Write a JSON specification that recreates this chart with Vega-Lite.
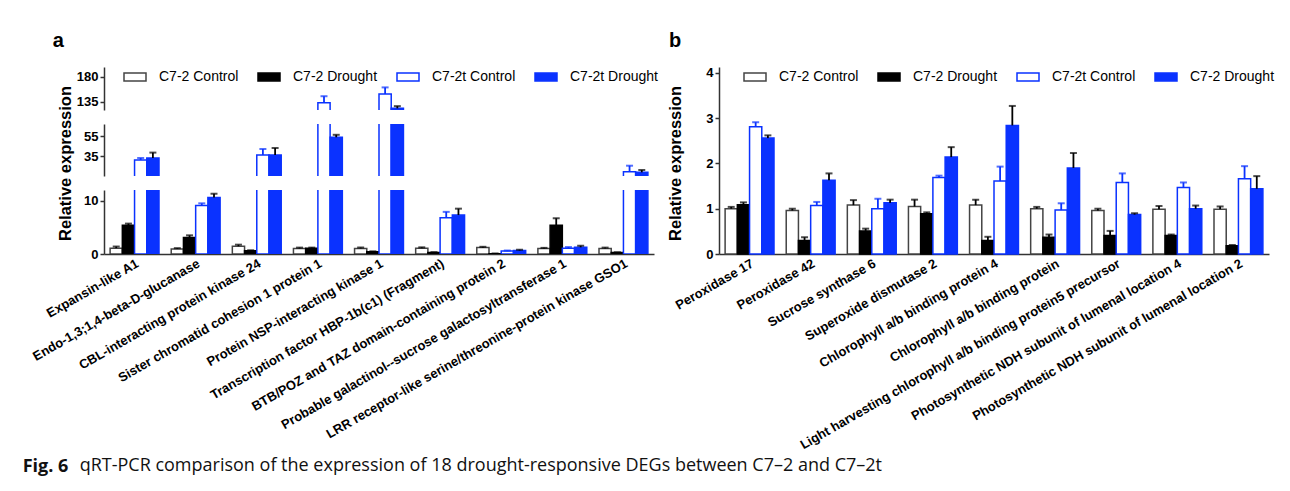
{
  "$schema": "https://vega.github.io/schema/vega-lite/v6.json",
  "background": "white",
  "padding": {"left": 22, "top": 31, "right": 5, "bottom": 5},
  "config": {
    "font": "Liberation Sans",
    "view": {"stroke": null},
    "axis": {"labelFont": "Liberation Sans", "labelFontSize": 13, "labelFontWeight": "bold", "labelColor": "black", "titleFont": "Liberation Sans", "titleFontSize": 16.5, "titleFontWeight": "bold", "titleColor": "black", "domainColor": "#333333", "domainWidth": 1.5, "tickColor": "#333333", "tickWidth": 1.5, "tickSize": 4, "grid": false, "labelPadding": 2},
    "legend": {"symbolType": "M-1,-0.36H1V0.36H-1Z", "symbolSize": 484, "symbolStrokeWidth": 1.5, "labelFont": "Liberation Sans", "labelFontSize": 14, "labelColor": "black", "labelOffset": 12, "columnPadding": 16},
    "title": {"font": "Liberation Sans", "color": "black"}
  },
  "datasets": {
    "a": [
      {"gene": "Expansin-like A1", "g": "C7-2 Control", "v": 1.1, "hi": 1.4},
      {"gene": "Expansin-like A1", "g": "C7-2 Drought", "v": 5.4, "hi": 5.7},
      {"gene": "Expansin-like A1", "g": "C7-2t Control", "v": 31, "hi": 33},
      {"gene": "Expansin-like A1", "g": "C7-2t Drought", "v": 33, "hi": 38.4},
      {"gene": "Endo-1,3;1,4-beta-D-glucanase", "g": "C7-2 Control", "v": 0.95, "hi": 1.1},
      {"gene": "Endo-1,3;1,4-beta-D-glucanase", "g": "C7-2 Drought", "v": 3.1, "hi": 3.5},
      {"gene": "Endo-1,3;1,4-beta-D-glucanase", "g": "C7-2t Control", "v": 9.1, "hi": 9.5},
      {"gene": "Endo-1,3;1,4-beta-D-glucanase", "g": "C7-2t Drought", "v": 10.6, "hi": 11.3},
      {"gene": "CBL-interacting protein kinase 24", "g": "C7-2 Control", "v": 1.45, "hi": 1.75},
      {"gene": "CBL-interacting protein kinase 24", "g": "C7-2 Drought", "v": 0.6, "hi": 0.7},
      {"gene": "CBL-interacting protein kinase 24", "g": "C7-2t Control", "v": 36, "hi": 42},
      {"gene": "CBL-interacting protein kinase 24", "g": "C7-2t Drought", "v": 36, "hi": 43},
      {"gene": "Sister chromatid cohesion 1 protein 1", "g": "C7-2 Control", "v": 1.05, "hi": 1.2},
      {"gene": "Sister chromatid cohesion 1 protein 1", "g": "C7-2 Drought", "v": 1.1, "hi": 1.2},
      {"gene": "Sister chromatid cohesion 1 protein 1", "g": "C7-2t Control", "v": 133, "hi": 145},
      {"gene": "Sister chromatid cohesion 1 protein 1", "g": "C7-2t Drought", "v": 53.7, "hi": 56.2},
      {"gene": "Protein NSP-interacting kinase 1", "g": "C7-2 Control", "v": 1.05, "hi": 1.2},
      {"gene": "Protein NSP-interacting kinase 1", "g": "C7-2 Drought", "v": 0.4, "hi": 0.5},
      {"gene": "Protein NSP-interacting kinase 1", "g": "C7-2t Control", "v": 149, "hi": 161},
      {"gene": "Protein NSP-interacting kinase 1", "g": "C7-2t Drought", "v": 123, "hi": 127},
      {"gene": "Transcription factor HBP-1b(c1) (Fragment)", "g": "C7-2 Control", "v": 1.1, "hi": 1.25},
      {"gene": "Transcription factor HBP-1b(c1) (Fragment)", "g": "C7-2 Drought", "v": 0.3, "hi": 0.35},
      {"gene": "Transcription factor HBP-1b(c1) (Fragment)", "g": "C7-2t Control", "v": 6.8, "hi": 7.9},
      {"gene": "Transcription factor HBP-1b(c1) (Fragment)", "g": "C7-2t Drought", "v": 7.3, "hi": 8.5},
      {"gene": "BTB/POZ and TAZ domain-containing protein 2", "g": "C7-2 Control", "v": 1.2, "hi": 1.35},
      {"gene": "BTB/POZ and TAZ domain-containing protein 2", "g": "C7-2 Drought", "v": 0.05, "hi": 0.1},
      {"gene": "BTB/POZ and TAZ domain-containing protein 2", "g": "C7-2t Control", "v": 0.55, "hi": 0.65},
      {"gene": "BTB/POZ and TAZ domain-containing protein 2", "g": "C7-2t Drought", "v": 0.65, "hi": 0.8},
      {"gene": "Probable galactinol--sucrose galactosyltransferase 1", "g": "C7-2 Control", "v": 1.05, "hi": 1.15},
      {"gene": "Probable galactinol--sucrose galactosyltransferase 1", "g": "C7-2 Drought", "v": 5.4, "hi": 6.7},
      {"gene": "Probable galactinol--sucrose galactosyltransferase 1", "g": "C7-2t Control", "v": 1.1, "hi": 1.3},
      {"gene": "Probable galactinol--sucrose galactosyltransferase 1", "g": "C7-2t Drought", "v": 1.25, "hi": 1.55},
      {"gene": "LRR receptor-like serine/threonine-protein kinase GSO1", "g": "C7-2 Control", "v": 1.05, "hi": 1.2},
      {"gene": "LRR receptor-like serine/threonine-protein kinase GSO1", "g": "C7-2 Drought", "v": 0.3, "hi": 0.35},
      {"gene": "LRR receptor-like serine/threonine-protein kinase GSO1", "g": "C7-2t Control", "v": 19.3, "hi": 25.3},
      {"gene": "LRR receptor-like serine/threonine-protein kinase GSO1", "g": "C7-2t Drought", "v": 18.7, "hi": 21}
    ],
    "b": [
      {"gene": "Peroxidase 17", "g": "C7-2 Control", "v": 1.0, "hi": 1.04},
      {"gene": "Peroxidase 17", "g": "C7-2 Drought", "v": 1.09, "hi": 1.14},
      {"gene": "Peroxidase 17", "g": "C7-2t Control", "v": 2.81, "hi": 2.91},
      {"gene": "Peroxidase 17", "g": "C7-2t Drought", "v": 2.56, "hi": 2.62},
      {"gene": "Peroxidase 42", "g": "C7-2 Control", "v": 0.96, "hi": 1.0},
      {"gene": "Peroxidase 42", "g": "C7-2 Drought", "v": 0.3, "hi": 0.37},
      {"gene": "Peroxidase 42", "g": "C7-2t Control", "v": 1.07, "hi": 1.15},
      {"gene": "Peroxidase 42", "g": "C7-2t Drought", "v": 1.63, "hi": 1.78},
      {"gene": "Sucrose synthase 6", "g": "C7-2 Control", "v": 1.08, "hi": 1.19},
      {"gene": "Sucrose synthase 6", "g": "C7-2 Drought", "v": 0.51, "hi": 0.56},
      {"gene": "Sucrose synthase 6", "g": "C7-2t Control", "v": 1.0, "hi": 1.22},
      {"gene": "Sucrose synthase 6", "g": "C7-2t Drought", "v": 1.13, "hi": 1.2},
      {"gene": "Superoxide dismutase 2", "g": "C7-2 Control", "v": 1.05, "hi": 1.2},
      {"gene": "Superoxide dismutase 2", "g": "C7-2 Drought", "v": 0.89, "hi": 0.92},
      {"gene": "Superoxide dismutase 2", "g": "C7-2t Control", "v": 1.69, "hi": 1.73},
      {"gene": "Superoxide dismutase 2", "g": "C7-2t Drought", "v": 2.14, "hi": 2.36},
      {"gene": "Chlorophyll a/b binding protein 4", "g": "C7-2 Control", "v": 1.08, "hi": 1.2},
      {"gene": "Chlorophyll a/b binding protein 4", "g": "C7-2 Drought", "v": 0.3, "hi": 0.38},
      {"gene": "Chlorophyll a/b binding protein 4", "g": "C7-2t Control", "v": 1.61, "hi": 1.93},
      {"gene": "Chlorophyll a/b binding protein 4", "g": "C7-2t Drought", "v": 2.84, "hi": 3.27},
      {"gene": "Chlorophyll a/b binding protein", "g": "C7-2 Control", "v": 1.0, "hi": 1.04},
      {"gene": "Chlorophyll a/b binding protein", "g": "C7-2 Drought", "v": 0.37, "hi": 0.43},
      {"gene": "Chlorophyll a/b binding protein", "g": "C7-2t Control", "v": 0.97, "hi": 1.12},
      {"gene": "Chlorophyll a/b binding protein", "g": "C7-2t Drought", "v": 1.9, "hi": 2.23},
      {"gene": "Light harvesting chlorophyll a/b binding protein5 precursor", "g": "C7-2 Control", "v": 0.96, "hi": 1.0},
      {"gene": "Light harvesting chlorophyll a/b binding protein5 precursor", "g": "C7-2 Drought", "v": 0.41, "hi": 0.51},
      {"gene": "Light harvesting chlorophyll a/b binding protein5 precursor", "g": "C7-2t Control", "v": 1.58, "hi": 1.78},
      {"gene": "Light harvesting chlorophyll a/b binding protein5 precursor", "g": "C7-2t Drought", "v": 0.87, "hi": 0.9},
      {"gene": "Photosynthetic NDH subunit of lumenal location 4", "g": "C7-2 Control", "v": 0.99, "hi": 1.06},
      {"gene": "Photosynthetic NDH subunit of lumenal location 4", "g": "C7-2 Drought", "v": 0.41, "hi": 0.43},
      {"gene": "Photosynthetic NDH subunit of lumenal location 4", "g": "C7-2t Control", "v": 1.47, "hi": 1.58},
      {"gene": "Photosynthetic NDH subunit of lumenal location 4", "g": "C7-2t Drought", "v": 1.0, "hi": 1.07},
      {"gene": "Photosynthetic NDH subunit of lumenal location 2", "g": "C7-2 Control", "v": 0.99, "hi": 1.05},
      {"gene": "Photosynthetic NDH subunit of lumenal location 2", "g": "C7-2 Drought", "v": 0.18, "hi": 0.2},
      {"gene": "Photosynthetic NDH subunit of lumenal location 2", "g": "C7-2t Control", "v": 1.66, "hi": 1.94},
      {"gene": "Photosynthetic NDH subunit of lumenal location 2", "g": "C7-2t Drought", "v": 1.44, "hi": 1.72}
    ]
  },
  "title": {"text": "Fig. 6", "orient": "bottom", "anchor": "start", "font": "Open Sans", "fontSize": 18, "fontWeight": "bold", "color": "#111111", "dx": -8, "dy": -21},
  "vconcat": [
    {
      "title": {"text": "qRT-PCR comparison of the expression of 18 drought-responsive DEGs between C7–2 and C7–2t", "orient": "bottom", "anchor": "start", "font": "Open Sans", "fontSize": 18, "fontWeight": "normal", "color": "#111111", "dx": 49, "offset": 5},
      "spacing": 9,
      "align": "none",
      "resolve": {"scale": {"fill": "independent", "stroke": "independent"}, "legend": {"fill": "independent", "stroke": "independent"}},
      "hconcat": [
        {
          "title": {"text": "a", "anchor": "start", "fontSize": 20, "fontWeight": "bold", "offset": 14, "dx": 22},
          "bounds": "flush",
          "spacing": 14,
          "resolve": {"scale": {"fill": "independent", "stroke": "independent"}, "legend": {"fill": "independent", "stroke": "independent"}},
          "vconcat": [
            {
              "width": 550, "height": 43,
              "data": {"name": "a"},
              "encoding": {
                "x": {"field": "gene", "type": "nominal", "sort": null, "scale": {"paddingInner": 0.2, "paddingOuter": 0.1}, "axis": null},
                "xOffset": {"field": "g", "type": "nominal", "sort": null}
              },
              "layer": [
                {"mark": {"type": "bar", "clip": true, "strokeWidth": 1.5},
                 "encoding": {
                   "y": {"field": "v", "type": "quantitative", "scale": {"domain": [120, 198], "nice": false, "zero": false}, "axis": {"values": [135, 180], "title": null}},
                   "fill": {"field": "g", "type": "nominal", "sort": null, "scale": {"domain": ["C7-2 Control", "C7-2 Drought", "C7-2t Control", "C7-2t Drought"], "range": ["white", "black", "white", "#0a32ff"]}, "legend": {"orient": "none", "legendX": 19, "legendY": -2, "direction": "horizontal", "title": null}},
                   "stroke": {"field": "g", "type": "nominal", "sort": null, "scale": {"domain": ["C7-2 Control", "C7-2 Drought", "C7-2t Control", "C7-2t Drought"], "range": ["#444444", "black", "#0a32ff", "#0a32ff"]}, "legend": {"orient": "none", "legendX": 19, "legendY": -2, "direction": "horizontal", "title": null}}
                 }},
                {"mark": {"type": "rule", "clip": true, "strokeWidth": 1.8},
                 "encoding": {"y": {"field": "v", "type": "quantitative", "title": null}, "y2": {"field": "hi"}, "color": {"condition": {"test": "datum.g === 'C7-2t Control'", "value": "#0a32ff"}, "value": "black"}}},
                {"mark": {"type": "tick", "clip": true, "thickness": 2, "size": 7},
                 "encoding": {"y": {"field": "hi", "type": "quantitative", "title": null}, "color": {"condition": {"test": "datum.g === 'C7-2t Control'", "value": "#0a32ff"}, "value": "black"}}}
              ]
            },
            {
              "width": 550, "height": 52,
              "data": {"name": "a"},
              "encoding": {
                "x": {"field": "gene", "type": "nominal", "sort": null, "scale": {"paddingInner": 0.2, "paddingOuter": 0.1}, "axis": null},
                "xOffset": {"field": "g", "type": "nominal", "sort": null}
              },
              "layer": [
                {"mark": {"type": "bar", "clip": true, "strokeWidth": 1.5},
                 "encoding": {
                   "y": {"field": "v", "type": "quantitative", "scale": {"domain": [15, 67], "nice": false, "zero": false}, "axis": {"values": [35, 55], "title": null}},
                   "fill": {"field": "g", "type": "nominal", "sort": null, "scale": {"domain": ["C7-2 Control", "C7-2 Drought", "C7-2t Control", "C7-2t Drought"], "range": ["white", "black", "white", "#0a32ff"]}, "legend": null},
                   "stroke": {"field": "g", "type": "nominal", "sort": null, "scale": {"domain": ["C7-2 Control", "C7-2 Drought", "C7-2t Control", "C7-2t Drought"], "range": ["#444444", "black", "#0a32ff", "#0a32ff"]}, "legend": null}
                 }},
                {"mark": {"type": "rule", "clip": true, "strokeWidth": 1.8},
                 "encoding": {"y": {"field": "v", "type": "quantitative", "title": null}, "y2": {"field": "hi"}, "color": {"condition": {"test": "datum.g === 'C7-2t Control'", "value": "#0a32ff"}, "value": "black"}}},
                {"mark": {"type": "tick", "clip": true, "thickness": 2, "size": 7},
                 "encoding": {"y": {"field": "hi", "type": "quantitative", "title": null}, "color": {"condition": {"test": "datum.g === 'C7-2t Control'", "value": "#0a32ff"}, "value": "black"}}}
              ]
            },
            {
              "width": 550, "height": 64,
              "data": {"name": "a"},
              "encoding": {
                "x": {"field": "gene", "type": "nominal", "sort": null, "scale": {"paddingInner": 0.2, "paddingOuter": 0.1}, "axis": {"title": null, "labelAngle": -30, "ticks": false, "labelLimit": 600, "labelPadding": 3}},
                "xOffset": {"field": "g", "type": "nominal", "sort": null}
              },
              "layer": [
                {"mark": {"type": "bar", "clip": true, "strokeWidth": 1.5},
                 "encoding": {
                   "y": {"field": "v", "type": "quantitative", "scale": {"domain": [0, 12], "nice": false}, "axis": {"values": [0, 5, 10], "title": "Relative expression", "titleX": -31, "titleY": -27}},
                   "fill": {"field": "g", "type": "nominal", "sort": null, "scale": {"domain": ["C7-2 Control", "C7-2 Drought", "C7-2t Control", "C7-2t Drought"], "range": ["white", "black", "white", "#0a32ff"]}, "legend": null},
                   "stroke": {"field": "g", "type": "nominal", "sort": null, "scale": {"domain": ["C7-2 Control", "C7-2 Drought", "C7-2t Control", "C7-2t Drought"], "range": ["#444444", "black", "#0a32ff", "#0a32ff"]}, "legend": null}
                 }},
                {"mark": {"type": "rule", "clip": true, "strokeWidth": 1.8},
                 "encoding": {"y": {"field": "v", "type": "quantitative", "title": "Relative expression"}, "y2": {"field": "hi"}, "color": {"condition": {"test": "datum.g === 'C7-2t Control'", "value": "#0a32ff"}, "value": "black"}}},
                {"mark": {"type": "tick", "clip": true, "thickness": 2, "size": 7},
                 "encoding": {"y": {"field": "hi", "type": "quantitative", "title": "Relative expression"}, "color": {"condition": {"test": "datum.g === 'C7-2t Control'", "value": "#0a32ff"}, "value": "black"}}}
              ]
            }
          ]
        },
        {
          "title": {"text": "b", "anchor": "start", "fontSize": 20, "fontWeight": "bold", "offset": 14, "dx": 2},
          "width": 550, "height": 187,
          "data": {"name": "b"},
          "encoding": {
            "x": {"field": "gene", "type": "nominal", "sort": null, "scale": {"paddingInner": 0.2, "paddingOuter": 0.1}, "axis": {"title": null, "labelAngle": -30, "ticks": false, "labelLimit": 600, "labelPadding": 3}},
            "xOffset": {"field": "g", "type": "nominal", "sort": null}
          },
          "layer": [
            {"mark": {"type": "bar", "strokeWidth": 1.5},
             "encoding": {
               "y": {"field": "v", "type": "quantitative", "scale": {"domain": [0, 4.13], "nice": false}, "axis": {"values": [0, 1, 2, 3, 4], "title": "Relative expression", "titleX": -36, "titleY": 96}},
               "fill": {"field": "g", "type": "nominal", "sort": null, "scale": {"domain": ["C7-2 Control", "C7-2 Drought", "C7-2t Control", "C7-2t Drought"], "range": ["white", "black", "white", "#0a32ff"]}, "legend": {"orient": "none", "legendX": 24, "legendY": -2, "direction": "horizontal", "title": null, "labelExpr": "datum.label === 'C7-2t Drought' ? 'C7-2 Drought' : datum.label"}},
               "stroke": {"field": "g", "type": "nominal", "sort": null, "scale": {"domain": ["C7-2 Control", "C7-2 Drought", "C7-2t Control", "C7-2t Drought"], "range": ["#444444", "black", "#0a32ff", "#0a32ff"]}, "legend": {"orient": "none", "legendX": 24, "legendY": -2, "direction": "horizontal", "title": null, "labelExpr": "datum.label === 'C7-2t Drought' ? 'C7-2 Drought' : datum.label"}}
             }},
            {"mark": {"type": "rule", "strokeWidth": 1.8},
             "encoding": {"y": {"field": "v", "type": "quantitative", "title": "Relative expression"}, "y2": {"field": "hi"}, "color": {"condition": {"test": "datum.g === 'C7-2t Control'", "value": "#0a32ff"}, "value": "black"}}},
            {"mark": {"type": "tick", "thickness": 2, "size": 7},
             "encoding": {"y": {"field": "hi", "type": "quantitative", "title": "Relative expression"}, "color": {"condition": {"test": "datum.g === 'C7-2t Control'", "value": "#0a32ff"}, "value": "black"}}}
          ]
        }
      ]
    }
  ]
}
